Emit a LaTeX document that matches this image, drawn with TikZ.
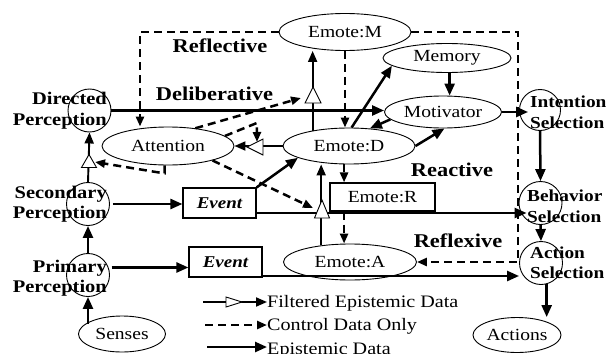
\documentclass[tikz,border=0pt]{standalone}
\usepackage{fontspec}
\setmainfont{Liberation Serif}[FakeStretch=1.15]
\usetikzlibrary{arrows.meta,calc,shapes.geometric}
\begin{document}
\begin{tikzpicture}[x=1pt,y=-1pt,
 ell/.style={draw, ellipse, line width=0.9pt, inner sep=0pt, font=\fontsize{17}{19}\selectfont},
 circ/.style={draw, circle, line width=0.9pt, minimum size=43pt, inner sep=0pt},
 box/.style={draw, rectangle, line width=1.2pt, inner sep=0pt},
 plab/.style={font=\bfseries\fontsize{17.8}{20.5}\selectfont, inner sep=0pt},
 rlab/.style={font=\bfseries\fontsize{16.8}{20.5}\selectfont, inner sep=0pt},
 layer/.style={font=\bfseries\fontsize{19.5}{21}\selectfont, inner sep=0pt},
 epi/.style={line width=2.5pt, -{Triangle[length=12pt,width=10pt]}},
 fepi/.style={line width=1.9pt, -{Triangle[length=11pt,width=9pt]}},
 ctl/.style={line width=2.5pt, dash pattern=on 8pt off 5pt, -{Triangle[length=10pt,width=8pt]}},
 filt/.style={draw, fill=white, line width=0.9pt},
 leg/.style={font=\fontsize{17.5}{19}\selectfont, inner sep=0pt},
]
\useasboundingbox (0,0) rectangle (609,353);

% ellipses
\node[ell, minimum width=132pt, minimum height=37pt] (EM) at (345,32) {Emote:M};
\node[ell, minimum width=128pt, minimum height=29pt] (Mem) at (447,58) {Memory};
\node[ell, minimum width=117pt, minimum height=32pt] (Mot) at (443,112) {Motivator};
\node[ell, minimum width=132pt, minimum height=36pt] (ED) at (349,146) {Emote:D};
\node[ell, minimum width=133pt, minimum height=36pt] (EA) at (350,262) {Emote:A};
\node[ell, minimum width=132pt, minimum height=38pt] (Att) at (168,146) {Attention};
\node[ell, minimum width=87pt, minimum height=36pt] (Sen) at (122,334) {Senses};
\node[ell, minimum width=88pt, minimum height=35pt] (Act) at (517,335) {Actions};

% circles
\node[circ] (DP) at (89.5,110.5) {};
\node[circ] (SP) at (88,204) {};
\node[circ] (PP) at (88,275) {};
\node[circ, minimum size=41pt] (IS) at (540,110) {};
\node[circ] (BS) at (540.5,203) {};
\node[circ] (AS) at (541,263) {};

% circle labels
\node[plab, anchor=east, align=right] (DPl) at (107,110.5) {Directed\\Perception};
\node[plab, anchor=east, align=right] (SPl) at (107,204) {Secondary\\Perception};
\node[plab, anchor=east, align=right] (PPl) at (107,278) {Primary\\Perception};
\node[rlab, anchor=west, align=left] (ISl) at (530,112.5) {Intention\\Selection};
\node[rlab, anchor=west, align=left] (BSl) at (527,206) {Behavior\\Selection};
\node[rlab, anchor=west, align=left] (ASl) at (530,262.5) {Action\\Selection};

% boxes
\node[box, minimum width=73pt, minimum height=30pt, font=\bfseries\itshape\fontsize{16.5}{18}\selectfont] (Ev1) at (219.5,203) {Event};
\node[box, minimum width=73pt, minimum height=30pt, font=\bfseries\itshape\fontsize{16.5}{18}\selectfont] (Ev2) at (225.5,262) {Event};
\node[box, minimum width=105pt, minimum height=28pt, font=\fontsize{17}{19}\selectfont] (ER) at (382.5,197) {Emote:R};

% layer labels
\node[layer] (lRefl) at (220,46) {Reflective};
\node[layer] (lDel) at (214.5,94) {Deliberative};
\node[layer] (lReac) at (452,170) {Reactive};
\node[layer] (lRefx) at (458,241) {Reflexive};

% filter positions and corners
\coordinate (fM) at (313,95);
\coordinate (fAtt) at (255,147);
\coordinate (fA) at (322,209);
\coordinate (fDP) at (89,161);
\coordinate (cTL) at (140,32);
\coordinate (cTR) at (518,32);
\coordinate (e1s) at ($(Ev1.east)+(0,10)$);
\coordinate (e2s) at ($(Ev2.east)+(0,14)$);

% epistemic connectors
\draw[epi] (Sen.center) ++(-34,-10.5) -- (PP.south);
\draw[epi] (PP.north) -- (SP.south);
\draw[epi] ([xshift=3pt]SP.east) -- (SP.east -| Ev1.west);
\draw[epi] ([xshift=3pt]PP.20) -- (PP.20 -| Ev2.west);
\draw[epi] (DP.east) -- (DP.east -| Mot.west);
\draw[epi, shorten >=-9pt] (Mot.east) -- (Mot.east -| IS.west);
\draw[epi] (IS.south) -- (BS.north);
\draw[epi] (BS.south) -- (AS.north);
\draw[epi] (AS.-75) -- (AS.-75 |- Act.north);
\draw[epi] (Mem.-80) -- (Mem.-80 |- Mot.north);
\draw[epi] (ED.82) -- (Mem.188);
\draw[epi] (Mot.188) -- (ED.40);
\draw[epi] (ED.east) -- (Mot.-85);
\draw[epi] (Ev1.north east) -- (ED.193);
\draw[epi, shorten >=-8pt] (e1s) -- (e1s -| BS.west);
\draw[epi] (e2s) -- (e2s -| AS.west);

% filtered connectors
\draw[fepi] (SP.north) -- (DP.south);
\draw[fepi] (ED.157) -- (ED.157 |- EM.south);
\draw[fepi] (ED.west) -- (Att.east);
\draw[fepi] (EA.150) -- (EA.150 |- ED.south);

% control connectors
\draw[ctl] (EM.south) -- (EM.south |- ED.north);
\draw[ctl] (ED.-105) -- (ED.-105 |- ER.north);
\draw[ctl] (ED.-105 |- ER.south) -- (ED.-105 |- EA.north);
\draw[ctl] (EM.west) -- (cTL) -- (cTL |- Att.north);
\draw[ctl] (EM.east) -- (cTR) -- (cTR |- EA.east) -- (EA.east);
\draw[ctl] (Att.33) -- ($(fM)+(-12,3)$);
\draw[ctl] (Att.10) -- ++(32,-13) -- ($(fAtt)+(2,-5)$);
\draw[ctl] (Att.-18) -- ($(fA)+(-9,-1)$);
\draw[ctl] (Att.-100) -- ++(0,8) -- ($(fDP)+(6,1)$);

% filter triangles
\draw[filt] ($(fM)+(0,-8)$) -- ($(fM)+(8,8)$) -- ($(fM)+(-8,8)$) -- cycle;
\draw[filt] ($(fAtt)+(-8,0)$) -- ($(fAtt)+(8,-8)$) -- ($(fAtt)+(8,8)$) -- cycle;
\draw[filt] ($(fA)+(0,-9)$) -- ($(fA)+(7.5,9)$) -- ($(fA)+(-7.5,9)$) -- cycle;
\draw[filt] ($(fDP)+(0,-6.5)$) -- ($(fDP)+(7.5,6.5)$) -- ($(fDP)+(-7.5,6.5)$) -- cycle;

% legend
\node[leg, anchor=base west] (L1) at (267,307.7) {Filtered Epistemic Data};
\node[leg, anchor=base west] (L2) at (267,330.7) {Control Data Only};
\node[leg, anchor=base west] (L3) at (267,354) {Epistemic Data};
\coordinate (a1) at (203,302);
\coordinate (a2) at (205,325);
\coordinate (a3) at (207,347);
\coordinate (fL) at (234,302);
\draw[fepi] (a1) -- (a1 -| L1.west);
\draw[ctl] (a2) -- (a2 -| L2.west);
\draw[epi] (a3) -- (a3 -| L3.west);
\draw[filt] ($(fL)+(8,0)$) -- ($(fL)+(-8,-5)$) -- ($(fL)+(-8,5)$) -- cycle;
\end{tikzpicture}
\end{document}
